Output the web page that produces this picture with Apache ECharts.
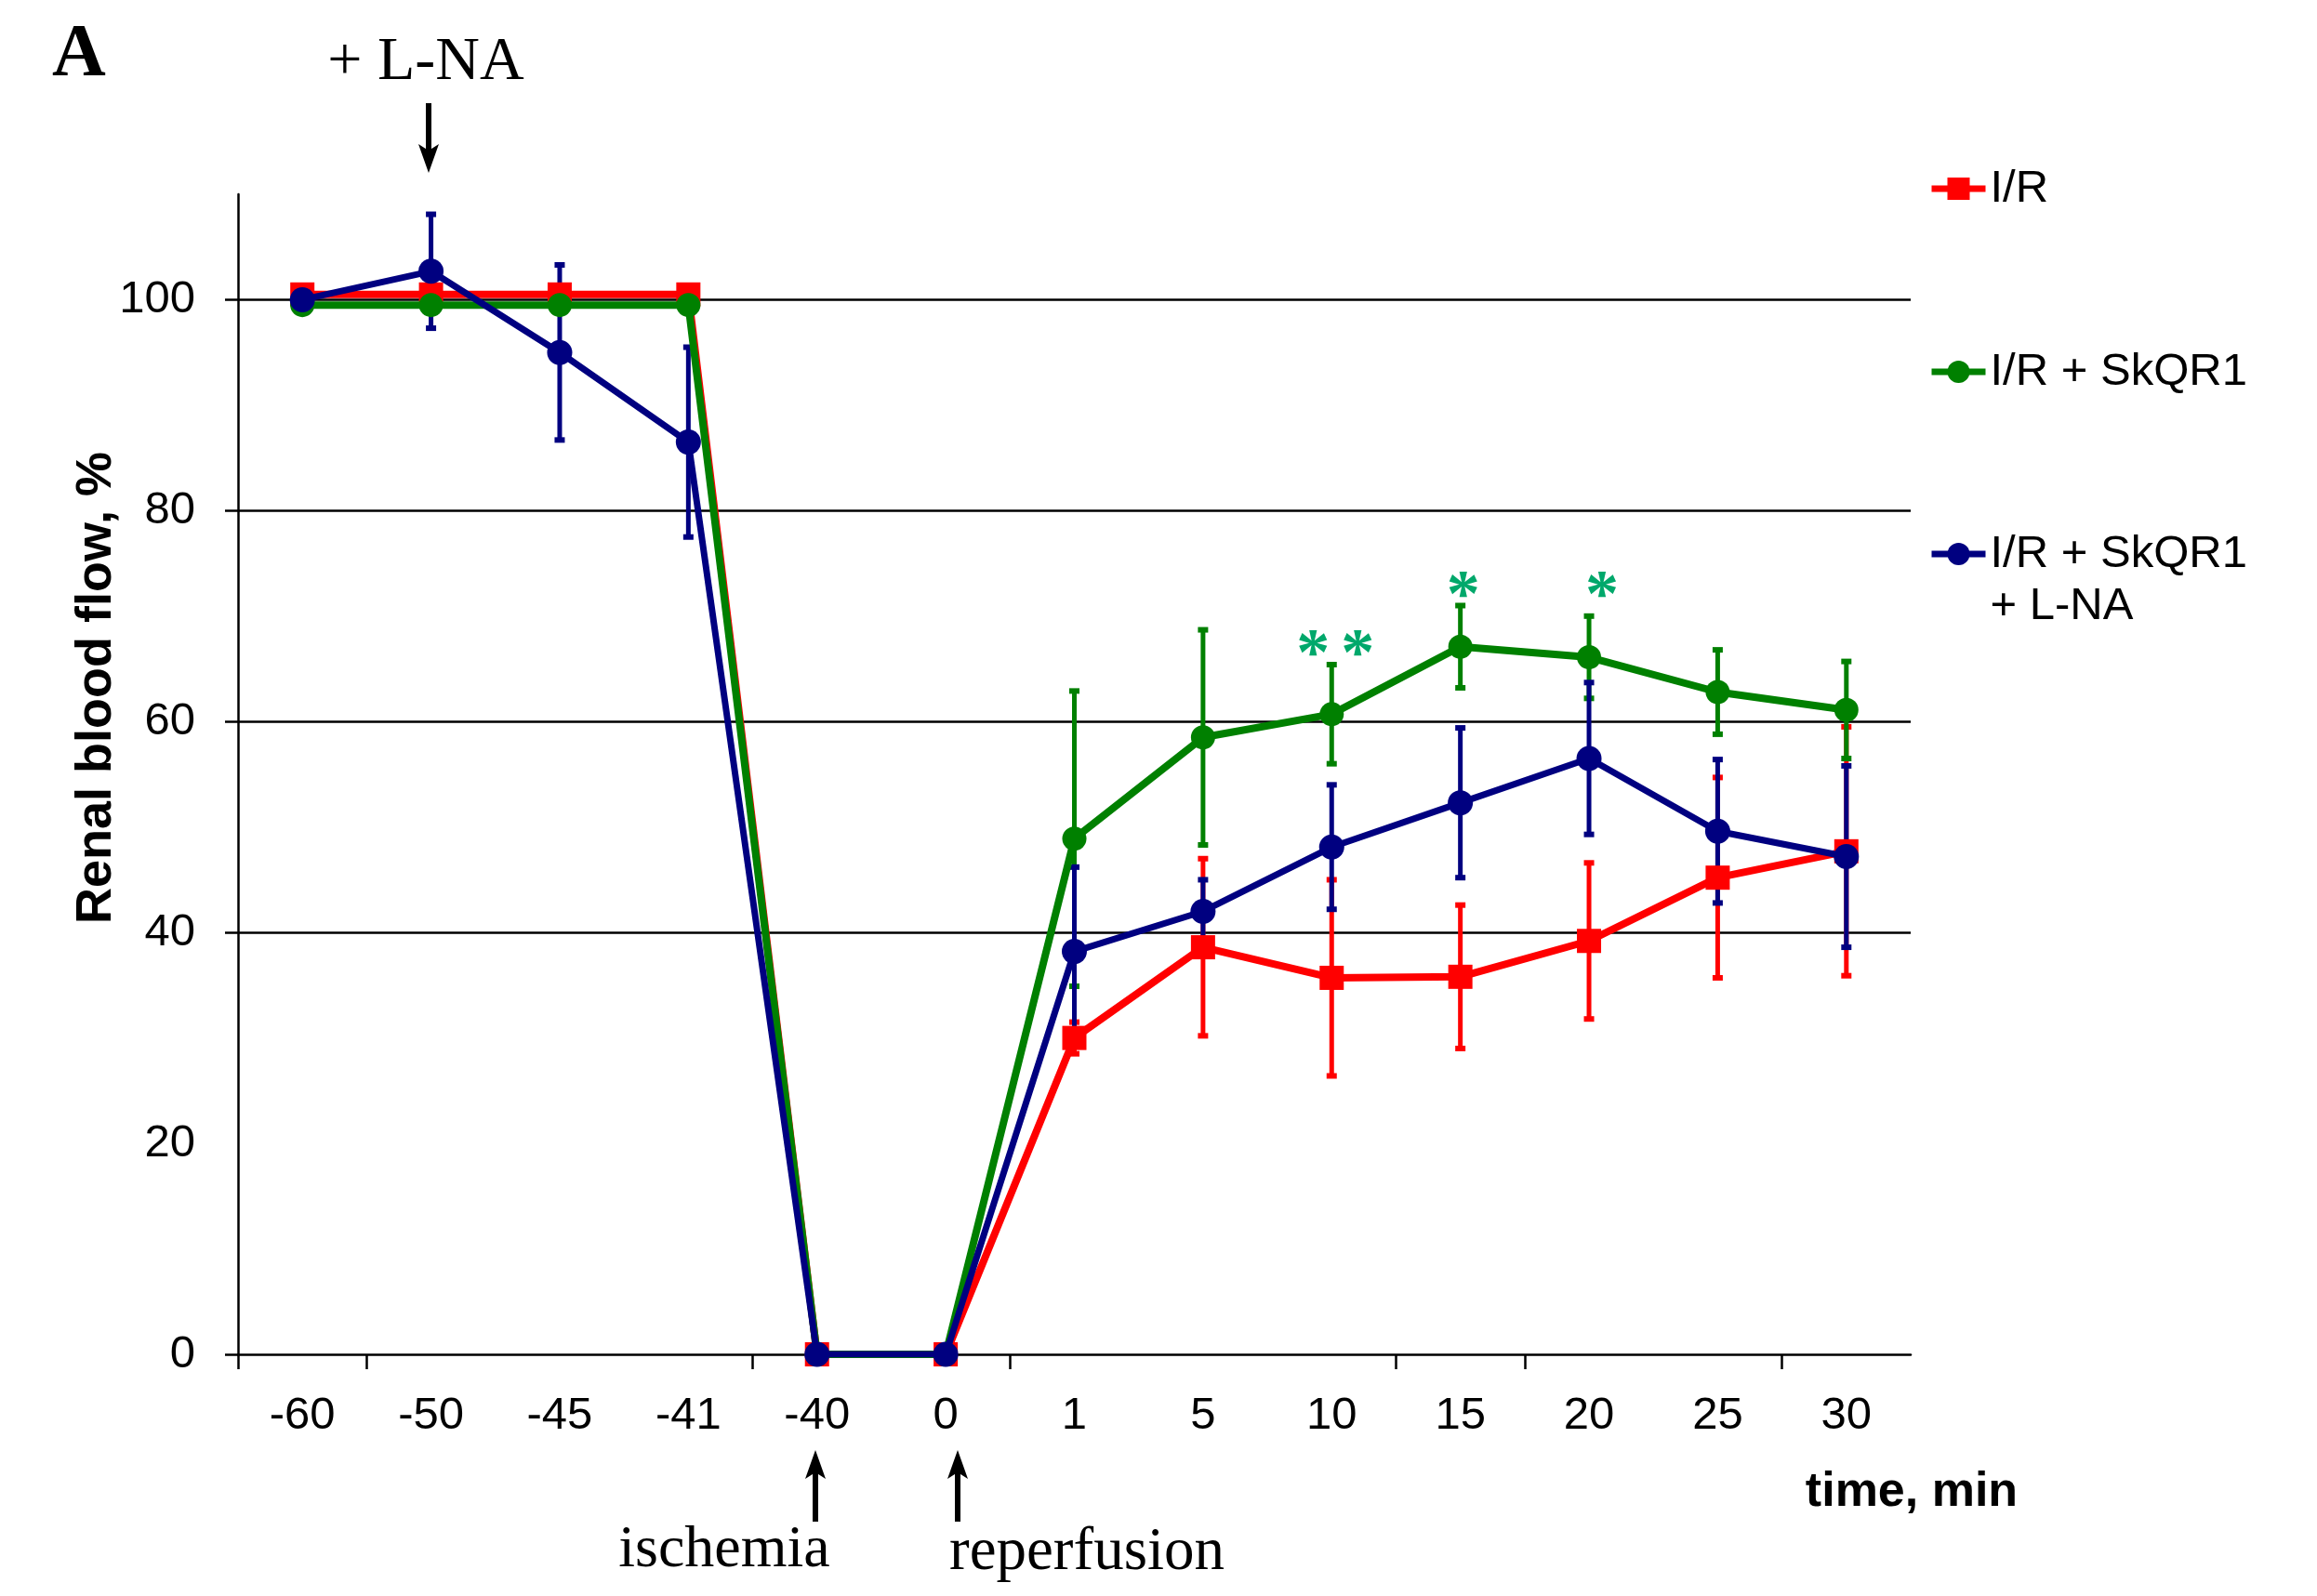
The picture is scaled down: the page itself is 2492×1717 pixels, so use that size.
<!DOCTYPE html>
<html>
<head>
<meta charset="utf-8">
<title>Renal blood flow</title>
<script src="https://cdn.jsdelivr.net/npm/echarts@6/dist/echarts.min.js"></script>
<style>
html, body { margin: 0; padding: 0; background: #fff; }
#chart1 { width: 2492px; height: 1717px; }
</style>
</head>
<body>
<div id="chart1"></div>
<script>
// time points, min
var categories = ['-60', '-50', '-45', '-41', '-40', '0', '1', '5', '10', '15', '20', '25', '30'];
var yTickLabels = [0, 20, 40, 60, 80, 100];
var yGridValues = [0, 40, 60, 80, 100];
var xTickBounds = [0, 1, 4, 6, 9, 10, 12];

// I/R
var irMean = [100.5, 100.5, 100.5, 100.5, 0, 0, 30.0, 38.6, 35.7, 35.8, 39.2, 45.2, 47.7];
var irErr  = [0, 0, 0, 0, 0, 0, 1.5, 8.4, 9.3, 6.8, 7.4, 9.5, 11.8];
// I/R + SkQR1
var skqMean = [99.5, 99.5, 99.5, 99.5, 0, 0, 48.9, 58.5, 60.7, 67.1, 66.1, 62.8, 61.1];
var skqErr  = [0, 0, 0, 0, 0, 0, 14.0, 10.2, 4.7, 3.9, 3.9, 4.0, 4.6];
// I/R + SkQR1 + L-NA
var lnaMean = [100, 102.7, 95.0, 86.5, 0, 0, 38.2, 42.0, 48.1, 52.3, 56.5, 49.6, 47.2];
var lnaErr  = [0, 5.4, 8.3, 9.0, 0, 0, 8.0, 3.0, 5.9, 7.1, 7.2, 6.8, 8.6];

// significance marks over the SkQR1 curve
var starCats  = [8, 9, 10];
var starTexts = ['*\u200a\u200a*', '*', '*'];
var starY     = [67.8, 73.4, 73.4];

var RED = '#ff0000', GREEN = '#008000', BLUE = '#000080', STAR = '#00a86b';
var SANS = '"Liberation Sans", Arial, sans-serif';
var SERIF = '"Liberation Serif", "Times New Roman", serif';

function errData(mean, err) {
    var out = [];
    for (var i = 0; i < mean.length; i++) {
        if (err[i] > 0) out.push([i, mean[i] - err[i], mean[i] + err[i]]);
    }
    return out;
}

function errSeries(name, color, mean, err) {
    return {
        name: name,
        type: 'custom',
        z: 2,
        silent: true,
        encode: { x: 0, y: [1, 2] },
        renderItem: function (params, api) {
            var x = api.value(0);
            var lo = api.coord([x, api.value(1)]);
            var hi = api.coord([x, api.value(2)]);
            var c = 5.5;
            return {
                type: 'group',
                children: [
                    { type: 'line', shape: { x1: lo[0], y1: lo[1], x2: hi[0], y2: hi[1] }, style: { stroke: color, lineWidth: 5 } },
                    { type: 'line', shape: { x1: hi[0] - c, y1: hi[1], x2: hi[0] + c, y2: hi[1] }, style: { stroke: color, lineWidth: 6 } },
                    { type: 'line', shape: { x1: lo[0] - c, y1: lo[1], x2: lo[0] + c, y2: lo[1] }, style: { stroke: color, lineWidth: 6 } }
                ]
            };
        },
        data: errData(mean, err)
    };
}

function lineSeries(name, color, data, symbol, size, width, z) {
    return {
        name: name,
        type: 'line',
        data: data,
        symbol: symbol,
        symbolSize: size,
        showAllSymbol: true,
        z: z,
        silent: true,
        lineStyle: { color: color, width: width },
        itemStyle: { color: color },
        emphasis: { disabled: true }
    };
}

function legendAt(name, top, formatter) {
    return {
        data: [name],
        orient: 'vertical',
        left: 2074,
        top: top,
        padding: 0,
        itemWidth: 58,
        itemHeight: 30,
        selectedMode: false,
        lineStyle: { width: 7 },
        formatter: formatter || '{name}',
        textStyle: { fontFamily: SANS, fontSize: 49, color: '#000', lineHeight: 56 }
    };
}

function arrow(x, yFrom, yTip) {
    var dir = yTip > yFrom ? 1 : -1;
    var back = yTip - dir * 31;
    var notch = yTip - dir * 24;
    return [
        { type: 'line', silent: true, shape: { x1: x, y1: yFrom, x2: x, y2: notch }, style: { stroke: '#000', lineWidth: 6 } },
        { type: 'polygon', silent: true, shape: { points: [[x, yTip], [x - 11, back], [x, notch], [x + 11, back]] }, style: { fill: '#000' } }
    ];
}

function getChart() {
    var red = lineSeries('I/R', RED, irMean, 'rect', 26, 8, 3);
    var green = lineSeries('I/R + SkQR1', GREEN, skqMean, 'circle', 26, 8, 4);
    var blue = lineSeries('I/R + SkQR1 + L-NA', BLUE, lnaMean, 'circle', 27, 7, 5);

    var starShift = [4, 3, 14];
    green.markPoint = {
        silent: true,
        symbol: 'circle',
        symbolSize: 0,
        animation: false,
        label: {
            show: true,
            position: 'inside',
            formatter: '{b}',
            color: STAR,
            fontFamily: SERIF,
            fontWeight: 'bold',
            fontSize: 72
        },
        data: starCats.map(function (c, i) {
            return { name: starTexts[i], coord: [categories[c], starY[i]], label: { offset: [starShift[i], 19] } };
        })
    };

    var graphics = [
        { type: 'text', silent: true, x: 85, y: 60, style: { text: 'A', font: 'bold 80px ' + SERIF, fill: '#000', align: 'center', verticalAlign: 'middle' } },
        { type: 'text', silent: true, x: 458, y: 68, style: { text: '+ L-NA', font: '66px ' + SERIF, fill: '#000', align: 'center', verticalAlign: 'middle' } },
        { type: 'text', silent: true, x: 779, y: 1668, style: { text: 'ischemia', font: '64px ' + SERIF, fill: '#000', align: 'center', verticalAlign: 'middle' } },
        { type: 'text', silent: true, x: 1169, y: 1671, style: { text: 'reperfusion', font: '65px ' + SERIF, fill: '#000', align: 'center', verticalAlign: 'middle' } },
        { type: 'text', silent: true, x: 104, y: 740, rotation: Math.PI / 2, style: { text: 'Renal blood flow, %', font: 'bold 54px ' + SANS, fill: '#000', align: 'center', verticalAlign: 'middle' } },
        { type: 'text', silent: true, x: 2056, y: 1606, style: { text: 'time, min', font: 'bold 52px ' + SANS, fill: '#000', align: 'center', verticalAlign: 'middle' } }
    ].concat(arrow(461, 111, 186), arrow(877, 1637, 1560), arrow(1030, 1637, 1560));

    var option = {
        animation: false,
        backgroundColor: '#fff',
        textStyle: { fontFamily: SANS },
        grid: { left: 256, right: 437, top: 209, bottom: 260, containLabel: false, outerBoundsMode: 'none' },
        legend: [
            legendAt('I/R', 175),
            legendAt('I/R + SkQR1', 372),
            legendAt('I/R + SkQR1 + L-NA', 512, function () { return ' \nI/R + SkQR1\n+ L-NA'; })
        ],
        xAxis: [{
            type: 'category',
            data: categories,
            boundaryGap: true,
            axisLine: { show: true, onZero: false, lineStyle: { color: '#000', width: 2.5 } },
            axisTick: { show: false },
            axisLabel: { color: '#000', fontSize: 49, fontFamily: SANS, margin: 42, interval: 0 },
            splitLine: { show: false }
        }, {
            type: 'value',
            min: 0,
            max: 13,
            position: 'bottom',
            axisLine: { show: false, onZero: false },
            axisLabel: { show: false },
            axisTick: { show: true, customValues: xTickBounds, length: 16, lineStyle: { color: '#000', width: 2.5 } },
            splitLine: { show: false }
        }],
        yAxis: {
            type: 'value',
            min: 0,
            max: 110,
            interval: 20,
            axisLine: { show: true, lineStyle: { color: '#000', width: 2.5 } },
            axisTick: { show: true, customValues: yGridValues, length: 14, lineStyle: { color: '#000', width: 2.5 } },
            axisLabel: { customValues: yTickLabels, color: '#000', fontSize: 49, fontFamily: SANS, margin: 46 },
            splitLine: { show: true, showMinLine: false, showMaxLine: true, lineStyle: { color: '#000', width: 2.5 } }
        },
        graphic: graphics,
        series: [
            errSeries('I/R err', RED, irMean, irErr),
            errSeries('I/R + SkQR1 err', GREEN, skqMean, skqErr),
            errSeries('I/R + SkQR1 + L-NA err', BLUE, lnaMean, lnaErr),
            red, green, blue
        ]
    };
    return option;
}

var myChart = echarts.init(document.getElementById('chart1'));
myChart.setOption(getChart());
window.addEventListener('resize', function () {
    myChart.resize();
});
</script>
</body>
</html>
